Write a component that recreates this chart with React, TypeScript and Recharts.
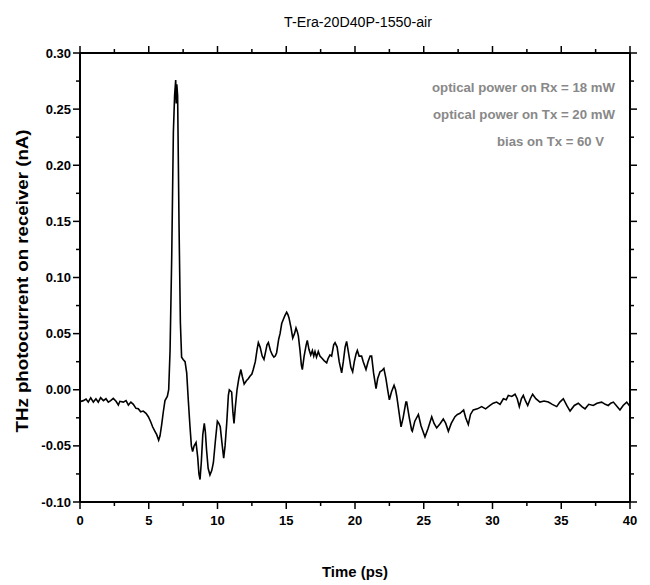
import React from "react";
import { LineChart, Line, XAxis, YAxis } from "recharts";

// time axis (ps) and THz photocurrent (nA)
const timePs = [
  0, 0.24, 0.44, 0.6, 0.78, 0.97, 1.16, 1.33, 1.5, 1.7, 1.89, 2.06, 2.23, 2.42, 2.62, 2.79, 2.9, 3.15, 3.35, 3.52,
  3.7, 3.88, 4.07, 4.24, 4.41, 4.6, 4.8, 4.97, 5.14, 5.28, 5.45, 5.58, 5.72, 5.82, 5.94, 6.06, 6.18, 6.35, 6.45, 6.55,
  6.67, 6.79, 6.88, 6.96, 7.0, 7.04, 7.1, 7.2, 7.3, 7.39, 7.5, 7.64, 7.76, 7.88, 8.0, 8.1, 8.19, 8.3, 8.44, 8.56,
  8.65, 8.73, 8.82, 8.93, 9.04, 9.12, 9.2, 9.32, 9.45, 9.58, 9.7, 9.85, 9.99, 10.1, 10.2, 10.33, 10.45, 10.55, 10.67, 10.79,
  10.86, 11.03, 11.12, 11.2, 11.3, 11.42, 11.55, 11.7, 11.8, 11.94, 12.1, 12.25, 12.36, 12.5, 12.6, 12.75, 12.88, 12.97, 13.1, 13.25,
  13.38, 13.5, 13.6, 13.7, 13.85, 13.99, 14.1, 14.2, 14.3, 14.45, 14.55, 14.67, 14.8, 14.9, 15.03, 15.12, 15.2, 15.35, 15.47, 15.6,
  15.71, 15.8, 15.88, 16.0, 16.1, 16.17, 16.3, 16.45, 16.53, 16.65, 16.78, 16.9, 17.0, 17.09, 17.2, 17.33, 17.45, 17.6, 17.75, 17.94,
  18.05, 18.18, 18.3, 18.45, 18.55, 18.7, 18.85, 19.03, 19.15, 19.28, 19.39, 19.5, 19.7, 19.83, 19.95, 20.08, 20.17, 20.3, 20.48, 20.6,
  20.8, 20.95, 21.1, 21.21, 21.35, 21.53, 21.65, 21.82, 21.95, 22.1, 22.25, 22.4, 22.5, 22.65, 22.84, 22.95, 23.04, 23.2, 23.35, 23.5,
  23.7, 23.76, 23.95, 24.12, 24.17, 24.35, 24.61, 24.8, 25.09, 25.3, 25.58, 25.75, 25.94, 26.2, 26.42, 26.6, 26.79, 27.0, 27.27, 27.45,
  27.64, 27.9, 28.05, 28.24, 28.4, 28.6, 28.9, 29.21, 29.5, 29.82, 30.05, 30.3, 30.55, 30.79, 31.0, 31.15, 31.4, 31.64, 31.8, 31.95,
  32.1, 32.24, 32.4, 32.56, 32.75, 32.92, 33.15, 33.45, 33.75, 34.06, 34.35, 34.67, 34.9, 35.15, 35.4, 35.64, 35.95, 36.24, 36.5, 36.73,
  37.0, 37.33, 37.6, 37.94, 38.2, 38.42, 38.6, 38.79, 39.0, 39.27, 39.5, 39.76, 40.0,
];

const photocurrent = [
  -0.0106, -0.0097, -0.0083, -0.011, -0.0071, -0.011, -0.008, -0.011, -0.007, -0.0097, -0.008, -0.011, -0.0097, -0.0077, -0.0103, -0.0136, -0.0103, -0.011, -0.0097, -0.0136,
  -0.011, -0.013, -0.0166, -0.017, -0.0196, -0.019, -0.021, -0.024, -0.0285, -0.033, -0.037, -0.04, -0.045, -0.041, -0.031, -0.0196, -0.0097, -0.006, 0.0, 0.035,
  0.118, 0.229, 0.262, 0.276, 0.255, 0.272, 0.262, 0.149, 0.06, 0.029, 0.027, 0.025, 0.015, -0.01, -0.033, -0.05, -0.055, -0.05, -0.047, -0.06,
  -0.075, -0.08, -0.065, -0.04, -0.03, -0.038, -0.053, -0.07, -0.076, -0.072, -0.065, -0.045, -0.028, -0.03, -0.033, -0.048, -0.061, -0.05, -0.03, -0.005,
  0.0, -0.002, -0.02, -0.03, -0.015, 0.0, 0.01, 0.018, 0.012, 0.005, 0.008, 0.01, 0.012, 0.014, 0.018, 0.025, 0.036, 0.042, 0.038, 0.03,
  0.027, 0.034, 0.04, 0.042, 0.035, 0.031, 0.029, 0.03, 0.033, 0.045, 0.05, 0.059, 0.063, 0.066, 0.069, 0.067, 0.064, 0.055, 0.046, 0.05,
  0.055, 0.052, 0.048, 0.035, 0.022, 0.018, 0.03, 0.04, 0.044, 0.036, 0.031, 0.035, 0.03, 0.034, 0.029, 0.034, 0.03, 0.028, 0.026, 0.024,
  0.028, 0.031, 0.03, 0.04, 0.042, 0.038, 0.025, 0.015, 0.025, 0.038, 0.043, 0.035, 0.02, 0.016, 0.025, 0.032, 0.035, 0.03, 0.03, 0.025,
  0.018, 0.025, 0.03, 0.03, 0.015, 0.001, 0.01, 0.016, 0.017, 0.019, 0.01, -0.002, -0.009, -0.002, 0.004, 0.0, -0.006, -0.02, -0.033, -0.025,
  -0.011, -0.011, -0.025, -0.036, -0.037, -0.028, -0.022, -0.032, -0.042, -0.035, -0.024, -0.03, -0.034, -0.03, -0.026, -0.03, -0.037, -0.03, -0.024, -0.022,
  -0.021, -0.018, -0.025, -0.031, -0.022, -0.018, -0.017, -0.015, -0.017, -0.014, -0.012, -0.011, -0.013, -0.008, -0.009, -0.005, -0.006, -0.004, -0.008, -0.015,
  -0.008, -0.005, -0.01, -0.014, -0.008, -0.004, -0.008, -0.011, -0.01, -0.011, -0.013, -0.015, -0.011, -0.008, -0.014, -0.019, -0.014, -0.012, -0.015, -0.017,
  -0.013, -0.014, -0.012, -0.011, -0.013, -0.014, -0.012, -0.011, -0.014, -0.018, -0.014, -0.011, -0.015,
];

// major + minor tick positions (majors get labels)
const xTicks = [0, 2.5, 5, 7.5, 10, 12.5, 15, 17.5, 20, 22.5, 25, 27.5, 30, 32.5, 35, 37.5, 40];
const yTicks = [-0.1, -0.075, -0.05, -0.025, 0, 0.025, 0.05, 0.075, 0.1, 0.125, 0.15, 0.175, 0.2, 0.225, 0.25, 0.275, 0.3];

const notes = ["optical power on Rx = 18 mW", "optical power on Tx = 20 mW", "bias on Tx = 60 V"];

const data = timePs.map((t, i) => ({ t, v: photocurrent[i] }));

const FONT = '"Liberation Sans", Arial, sans-serif';
const axisStroke = { stroke: "#000", strokeWidth: 2 };

const isMajorX = (v: number) => Math.abs(v / 5 - Math.round(v / 5)) < 1e-6;
const isMajorY = (v: number) => Math.abs(v * 20 - Math.round(v * 20)) < 1e-6;

// draws the tick mark itself (outward) and, on bottom/left, the label
const EdgeTick = (props: any) => {
  const { x, y, payload, side } = props;
  const v = payload.value;
  const major = side === "bottom" || side === "top" ? isMajorX(v) : isMajorY(v);
  const len = major ? 7 : 4;
  const ln = { stroke: "#000", strokeWidth: 1.5 };
  if (side === "bottom") {
    return (
      <g>
        <line x1={x} y1={y} x2={x} y2={y + len} {...ln} />
        {major && (
          <text x={x} y={y + 14} dy="0.71em" textAnchor="middle" fontFamily={FONT} fontSize={13} fontWeight={700} fill="#000">
            {v}
          </text>
        )}
      </g>
    );
  }
  if (side === "left") {
    return (
      <g>
        <line x1={x} y1={y} x2={x - len} y2={y} {...ln} />
        {major && (
          <text x={x - 9} y={y} dy="0.355em" textAnchor="end" fontFamily={FONT} fontSize={13} fontWeight={700} fill="#000">
            {v.toFixed(2)}
          </text>
        )}
      </g>
    );
  }
  if (side === "top") return <line x1={x} y1={y} x2={x} y2={y - len} {...ln} />;
  return <line x1={x} y1={y} x2={x + len} y2={y} {...ln} />;
};

export default function App() {
  return (
    <div style={{ position: "absolute", left: 0, top: 0, width: 650, height: 585, background: "#fff" }}>
      <LineChart width={650} height={585} data={data} margin={{ top: 52, right: 19, bottom: 53, left: 20 }}>
        <XAxis xAxisId="main" dataKey="t" type="number" domain={[0, 40]} ticks={xTicks} height={30} interval={0}
          axisLine={axisStroke} tickLine={false} tickSize={0} tickMargin={0}
          tick={(p: any) => <EdgeTick {...p} side="bottom" />} allowDataOverflow />
        <XAxis xAxisId="top" orientation="top" dataKey="t" type="number" domain={[0, 40]} ticks={xTicks} height={1}
          interval={0} axisLine={axisStroke} tickLine={false} tickSize={0} tickMargin={0}
          tick={(p: any) => <EdgeTick {...p} side="top" />} allowDataOverflow />
        <YAxis yAxisId="main" type="number" domain={[-0.1, 0.3]} ticks={yTicks} width={60} interval={0}
          axisLine={axisStroke} tickLine={false} tickSize={0} tickMargin={0}
          tick={(p: any) => <EdgeTick {...p} side="left" />} allowDataOverflow />
        <YAxis yAxisId="right" orientation="right" type="number" domain={[-0.1, 0.3]} ticks={yTicks} width={1}
          interval={0} axisLine={axisStroke} tickLine={false} tickSize={0} tickMargin={0}
          tick={(p: any) => <EdgeTick {...p} side="right" />} allowDataOverflow />

        {/* invisible copy so the frame axes are bound to a series */}
        <Line xAxisId="top" yAxisId="right" dataKey="v" stroke="none" dot={false} activeDot={false} isAnimationActive={false} />

        <Line xAxisId="main" yAxisId="main" dataKey="v" type="linear" stroke="#000" strokeWidth={1.6}
          dot={false} activeDot={false} isAnimationActive={false} />

        <text x={358} y={27} textAnchor="middle" fontFamily={FONT} fontSize={14} textLength={148}
          lengthAdjust="spacingAndGlyphs" fill="#000">T-Era-20D40P-1550-air</text>
        <text x={355} y={577} textAnchor="middle" fontFamily={FONT} fontSize={15} fontWeight={700} textLength={66}
          lengthAdjust="spacingAndGlyphs" fill="#000">Time (ps)</text>
        <text x={28} y={281} textAnchor="middle" fontFamily={FONT} fontSize={16} fontWeight={700} textLength={303}
          lengthAdjust="spacingAndGlyphs" fill="#000" transform="rotate(-90 28 281)">THz photocurrent on receiver (nA)</text>
        <text x={615} y={92} textAnchor="end" fontFamily={FONT} fontSize={13} fontWeight={700} textLength={183}
          lengthAdjust="spacingAndGlyphs" fill="#888">{notes[0]}</text>
        <text x={615} y={119} textAnchor="end" fontFamily={FONT} fontSize={13} fontWeight={700} textLength={182}
          lengthAdjust="spacingAndGlyphs" fill="#888">{notes[1]}</text>
        <text x={604} y={146} textAnchor="end" fontFamily={FONT} fontSize={13} fontWeight={700} textLength={107}
          lengthAdjust="spacingAndGlyphs" fill="#888">{notes[2]}</text>
      </LineChart>
    </div>
  );
}
